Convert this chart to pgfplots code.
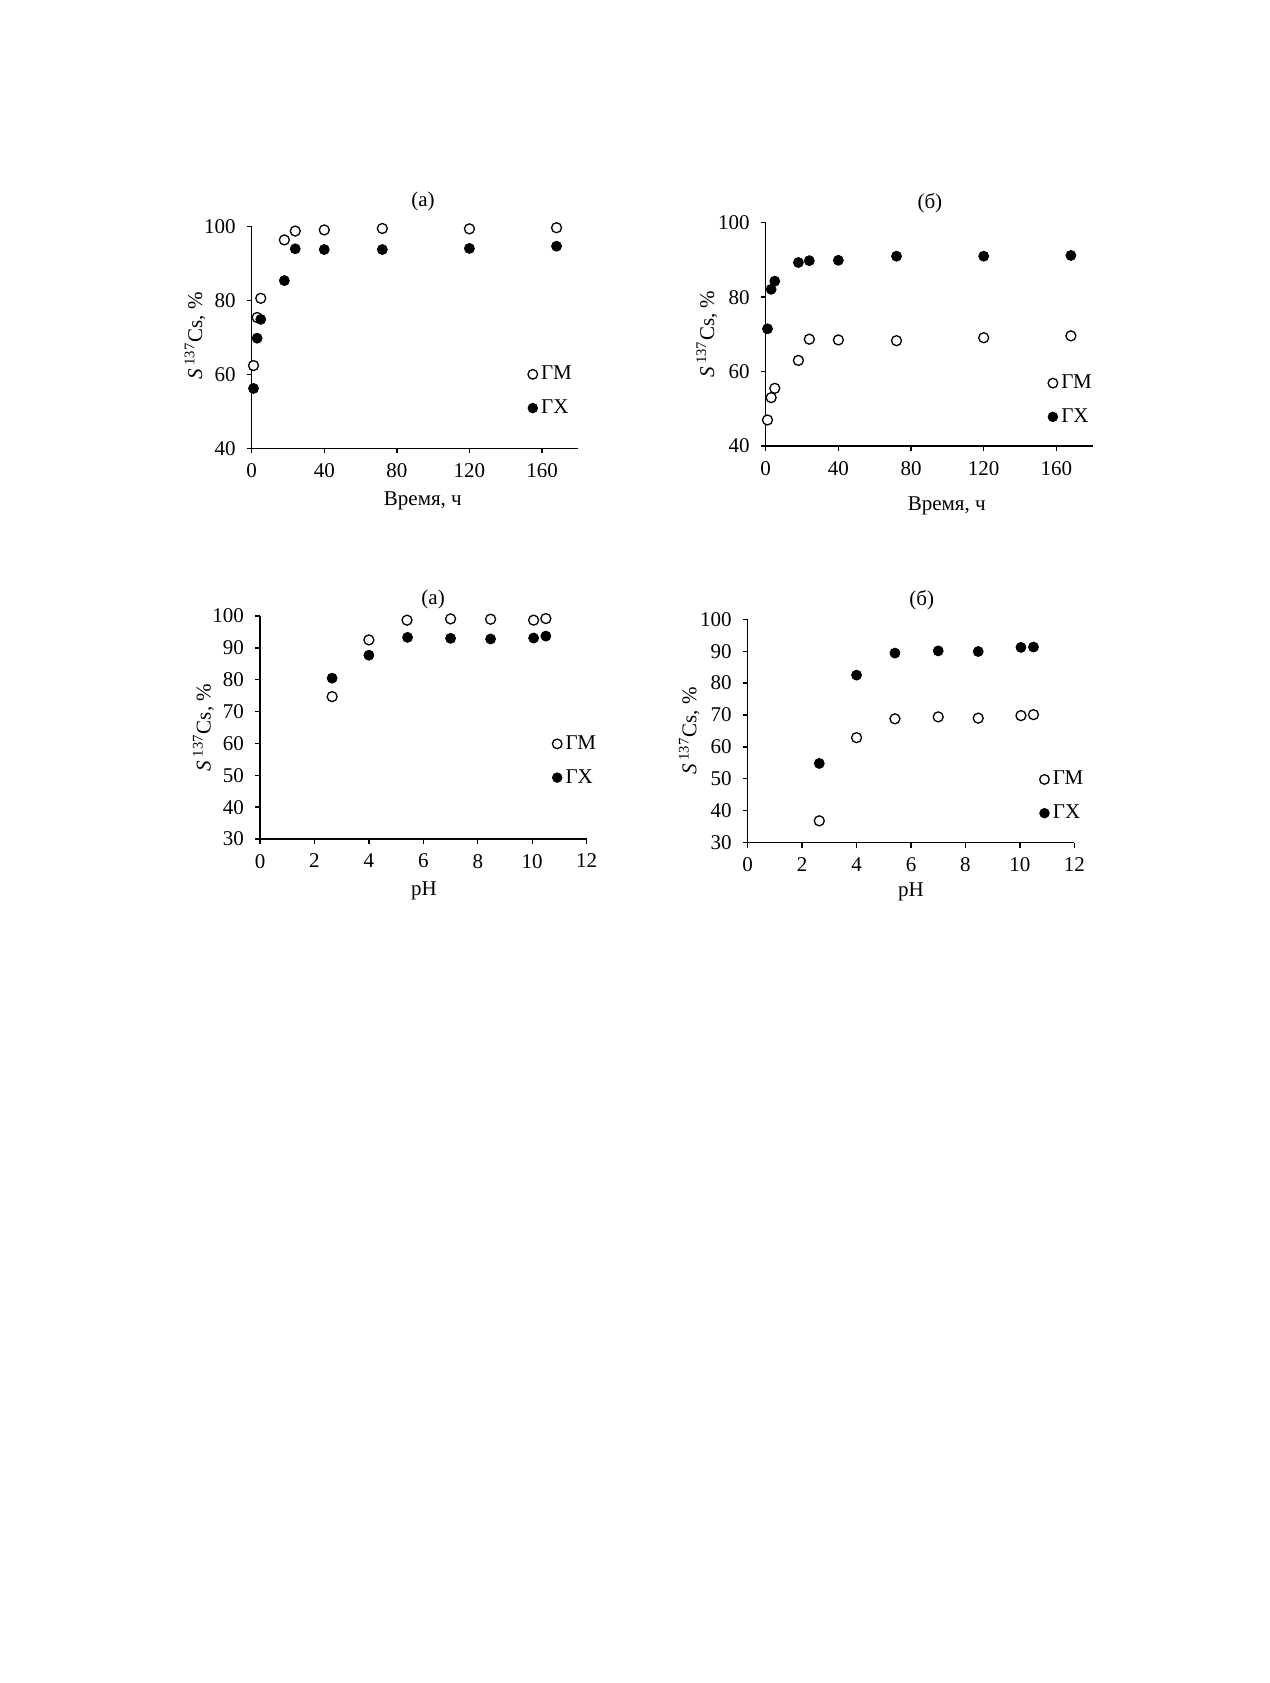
\documentclass[border=0pt]{standalone}
\usepackage{fontspec}
\setmainfont{Liberation Serif}
\usepackage{pgfplots}
\pgfplotsset{compat=1.18}
\newcommand{\fs}{\fontsize{10.5}{12.6}\selectfont}
\newcommand{\fl}{\fontsize{10.5}{12}\selectfont}
\pgfplotsset{
  myax/.style={
    scale only axis,
    axis lines=left,
    axis line style={-, line width=0.7pt, black},
    tick style={line width=0.7pt, black},
    tick align=outside,
    major tick length=2.5pt,
    clip=false,
    /pgf/number format/assume math mode=true,
    tick label style={font=\fs},
    label style={font=\fs},
    xticklabel style={yshift=-1.5pt},
    yticklabel style={xshift=-2pt},
    legend cell align=left,
    legend image code/.code={\draw[#1, mark size=2.4pt] plot coordinates {(0pt,0pt)};},
    ylabel={\textit{S}\,\textsuperscript{137}Cs, \%},
  },
  gm/.style={only marks, mark=*, mark size=2.5pt, mark options={fill=white, draw=black, line width=0.65pt}},
  gx/.style={only marks, mark=*, mark size=2.5pt, mark options={fill=black, draw=black, line width=0.4pt}},
  leg/.style={legend style={draw=none, fill=none, inner sep=0pt, font=\fl, row sep=6.5pt, column sep=0.8pt,
      nodes={inner sep=1pt}, at={(rel axis cs:#1)}, anchor=west, xshift=-2pt}},
}
\begin{document}
\begin{tikzpicture}
\useasboundingbox (0,0) rectangle (635pt,-841.5pt);
% Panel 1
\begin{axis}[myax, at={(125.85pt,-224.15pt)}, anchor=south west, width=163.3pt, height=110.85pt,
  xmin=0, xmax=180, ymin=40, ymax=100, xtick={0,40,80,120,160}, ytick={40,60,80,100},
  xlabel={Время, ч},
  xlabel style={at={(axis description cs:0.524,0)}, anchor=base, yshift=-28.7pt},
  ylabel style={at={(axis description cs:-0.1736,0.507)}, anchor=center},
  leg={0.857,0.2576}]
\addplot[gm] coordinates {(1,62.4) (3,75.4) (5,80.6) (18,96.4) (24,98.8) (40,99.1) (72,99.5) (120,99.4) (168,99.7)};
\addlegendentry{ГМ}
\addplot[gx] coordinates {(1,56.2) (3,69.8) (5,74.9) (18,85.4) (24,94.0) (40,93.8) (72,93.8) (120,94.1) (168,94.7)};
\addlegendentry{ГХ}
\node[font=\fs] at (rel axis cs:0.5245,1.113) {(а)};
\end{axis}
% Panel 2
\begin{axis}[myax, at={(382.85pt,-223pt)}, anchor=south west, width=163.5pt, height=111.65pt,
  xmin=0, xmax=180, ymin=40, ymax=100, xtick={0,40,80,120,160}, ytick={40,60,80,100},
  xlabel={Время, ч},
  xlabel style={at={(axis description cs:0.5535,0)}, anchor=base, yshift=-32pt},
  ylabel style={at={(axis description cs:-0.180,0.5)}, anchor=center},
  leg={0.8746,0.206}]
\addplot[gm] coordinates {(1,47.0) (3,53.0) (5,55.5) (18,63.0) (24,68.7) (40,68.5) (72,68.3) (120,69.1) (168,69.6)};
\addlegendentry{ГМ}
\addplot[gx] coordinates {(1,71.5) (3,82.1) (5,84.3) (18,89.3) (24,89.8) (40,89.9) (72,91.0) (120,91.0) (168,91.2)};
\addlegendentry{ГХ}
\node[font=\fs] at (rel axis cs:0.502,1.087) {(б)};
\end{axis}
% Panel 3
\begin{axis}[myax, at={(130pt,-419.5pt)}, anchor=south west, width=163.35pt, height=111.5pt,
  xmin=0, xmax=12, ymin=30, ymax=100, xtick={0,2,...,12}, ytick={30,40,...,100},
  xlabel={pH},
  xlabel style={at={(axis description cs:0.502,0)}, anchor=base, yshift=-28.2pt},
  ylabel style={at={(axis description cs:-0.1735,0.5)}, anchor=center},
  leg={0.906,0.351}]
\addplot[gm] coordinates {(2.65,74.7) (4.0,92.5) (5.4,98.7) (7.0,99.1) (8.47,99.0) (10.05,98.7) (10.5,99.2)};
\addlegendentry{ГМ}
\addplot[gx] coordinates {(2.65,80.5) (4.0,87.7) (5.42,93.3) (7.0,93.0) (8.47,92.8) (10.05,93.1) (10.5,93.7)};
\addlegendentry{ГХ}
\node[font=\fs] at (rel axis cs:0.530,1.075) {(а)};
\end{axis}
% Panel 4
\begin{axis}[myax, at={(373.85pt,-421.25pt)}, anchor=south west, width=163.3pt, height=111.6pt,
  xmin=0, xmax=12, ymin=30, ymax=100, xtick={0,2,...,12}, ytick={30,40,...,100},
  xlabel={pH},
  xlabel style={at={(axis description cs:0.500,0)}, anchor=base, yshift=-27pt},
  ylabel style={at={(axis description cs:-0.179,0.5)}, anchor=center},
  leg={0.905,0.207}]
\addplot[gm] coordinates {(2.63,36.8) (4.0,62.9) (5.41,68.8) (7.0,69.4) (8.47,69.0) (10.04,69.8) (10.5,70.1)};
\addlegendentry{ГМ}
\addplot[gx] coordinates {(2.63,54.8) (4.0,82.5) (5.41,89.4) (7.0,90.1) (8.47,89.9) (10.04,91.2) (10.5,91.3)};
\addlegendentry{ГХ}
\node[font=\fs] at (rel axis cs:0.533,1.084) {(б)};
\end{axis}
\end{tikzpicture}
\end{document}
